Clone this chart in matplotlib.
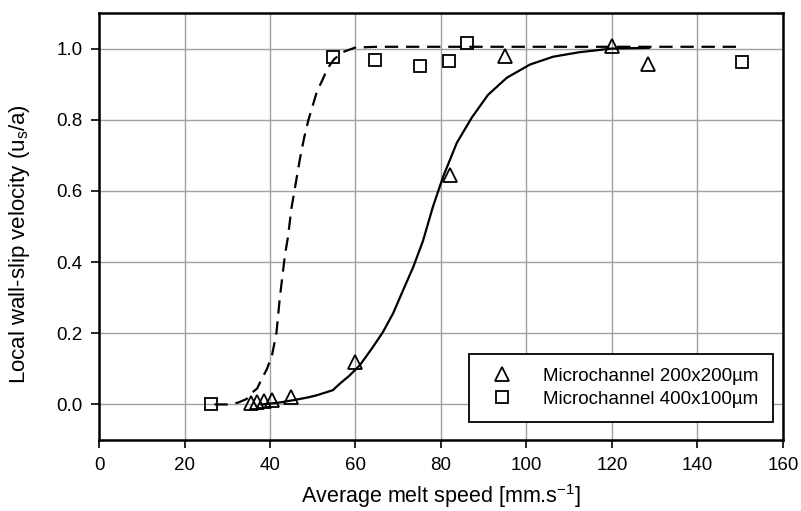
import matplotlib
matplotlib.use("Agg")
import matplotlib.pyplot as plt

plt.rcParams['font.family'] = ['Liberation Sans', 'DejaVu Sans']

# measured points
tri_x = [35.5, 37, 38.5, 40.5, 45, 60, 82, 95, 120, 128.5]
tri_y = [0.005, 0.008, 0.01, 0.012, 0.02, 0.12, 0.645, 0.978, 1.006, 0.958]

sq_x = [26.2, 54.8, 64.6, 75.1, 81.9, 86.1, 150.4]
sq_y = [0.0, 0.975, 0.969, 0.952, 0.964, 1.017, 0.961]

# fitted curves
dash_x = [27, 30, 32.5, 34.5, 35.5, 37, 38, 39.3, 40.5, 41.5, 42.3, 43, 43.5, 44.2,
          45, 46, 47, 48, 49, 50, 51, 52.2, 53.5, 55, 57, 60, 65, 150.5]
dash_y = [0.0, 0.0, 0.005, 0.015, 0.03, 0.045, 0.07, 0.10, 0.14, 0.2, 0.3, 0.37, 0.42, 0.47,
          0.55, 0.62, 0.69, 0.75, 0.8, 0.84, 0.88, 0.91, 0.945, 0.97, 0.99, 1.003, 1.005, 1.005]

solid_x = [38, 42, 45.5, 49, 51, 54.7, 56.4, 58.5, 61, 64, 66.4, 68.8, 71.1, 73.5, 75.8,
           78.1, 80.5, 83.7, 87.2, 91, 95.4, 100.8, 106.2, 112.5, 120, 128.7]
solid_y = [0.0, 0.005, 0.012, 0.02, 0.026, 0.04, 0.059, 0.08, 0.11, 0.16, 0.203, 0.256, 0.32,
           0.386, 0.46, 0.555, 0.64, 0.735, 0.806, 0.87, 0.918, 0.955, 0.977, 0.99, 1.0, 1.002]

x_ticks = [0, 20, 40, 60, 80, 100, 120, 140, 160]
y_ticks = [0.0, 0.2, 0.4, 0.6, 0.8, 1.0]

fig = plt.figure(figsize=(8.01, 5.11), dpi=100)
ax = fig.add_axes([0.1236, 0.1389, 0.8539, 0.8357])

ax.grid(True, color='#a0a0a0', linewidth=1.0)
ax.set_axisbelow(True)

ax.plot(dash_x, dash_y, color='black', linewidth=1.6, linestyle=(0, (6, 3.5)))
ax.plot(solid_x, solid_y, color='black', linewidth=1.6)

ax.plot(tri_x, tri_y, linestyle='none', marker='^', markersize=9.5, fillstyle='none',
        markeredgecolor='black', markeredgewidth=1.3, label='Microchannel 200x200µm')
ax.plot(sq_x, sq_y, linestyle='none', marker='s', markersize=9, fillstyle='none',
        markeredgecolor='black', markeredgewidth=1.3, label='Microchannel 400x100µm')

ax.set_xlim(0, 160)
ax.set_ylim(-0.1, 1.1)
ax.set_xticks(x_ticks)
ax.set_yticks(y_ticks)
ax.set_yticklabels([f"{v:.1f}" for v in y_ticks])
ax.tick_params(axis='both', labelsize=13.5, length=6, width=1.2, direction='out')
ax.tick_params(axis='x', pad=6)
ax.tick_params(axis='y', pad=6)

for side in ['top', 'right', 'bottom', 'left']:
    ax.spines[side].set_linewidth(1.8)
    ax.spines[side].set_color('black')

ax.set_xlabel('Average melt speed [mm.s$^{\\mathregular{-1}}$]', fontsize=15.5, labelpad=6)
ax.set_ylabel('Local wall-slip velocity (u$_{\\mathregular{s}}$/a)', fontsize=16)
ax.yaxis.set_label_coords(-0.098, 0.46)

leg = ax.legend(loc='lower right', bbox_to_anchor=(0.993, 0.03), fontsize=13.5,
                frameon=True, fancybox=False, edgecolor='black', framealpha=1,
                handletextpad=1.2, borderpad=0.75, labelspacing=0.3, borderaxespad=0.3)
leg.get_frame().set_linewidth(1.3)

fig.savefig('out.png', dpi=100)
